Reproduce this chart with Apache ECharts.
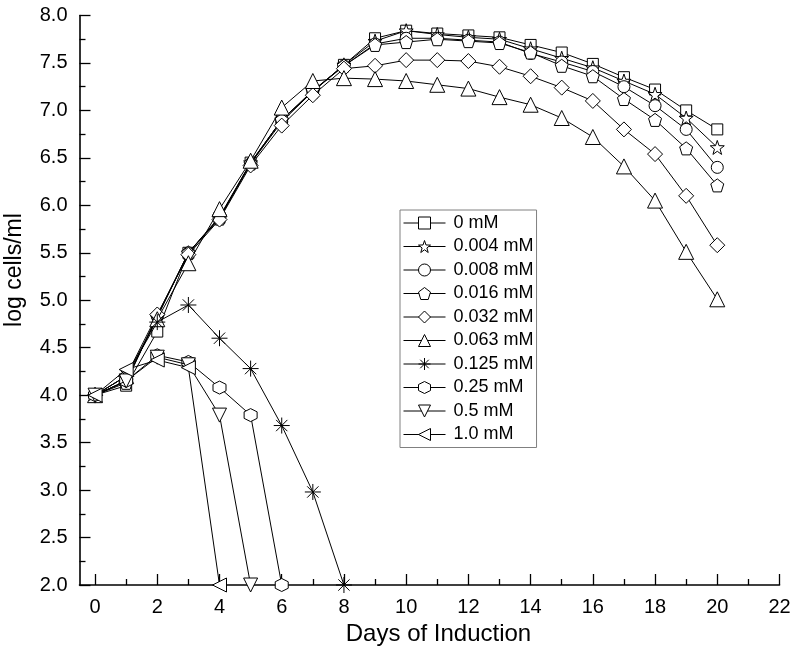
<!DOCTYPE html>
<html>
<head>
<meta charset="utf-8">
<script src="https://cdn.jsdelivr.net/npm/echarts@6/dist/echarts.min.js"></script>
<style>
html,body{margin:0;padding:0;background:#fff;}
#chart{width:797px;height:651px;}
</style>
</head>
<body>
<div id="chart"></div>
<script>
const days = [0,1,2,3,4,5,6,7,8,9,10,11,12,13,14,15,16,17,18,19,20];
const seriesNames = ['0 mM','0.004 mM','0.008 mM','0.016 mM','0.032 mM','0.063 mM','0.125 mM','0.25 mM','0.5 mM','1.0 mM'];
const s0    = [4.0, 4.10, 4.67, 5.50, 5.87, 6.45, 6.90, 7.20, 7.48, 7.76, 7.84, 7.81, 7.79, 7.77, 7.69, 7.61, 7.49, 7.35, 7.22, 7.00, 6.80];
const s004  = [4.0, 4.15, 4.82, 5.50, 5.88, 6.45, 6.90, 7.20, 7.48, 7.73, 7.84, 7.80, 7.77, 7.75, 7.65, 7.55, 7.45, 7.31, 7.17, 6.92, 6.61];
const s008  = [4.0, 4.15, 4.83, 5.50, 5.87, 6.44, 6.88, 7.20, 7.47, 7.70, 7.76, 7.76, 7.74, 7.72, 7.60, 7.51, 7.41, 7.25, 7.05, 6.80, 6.40];
const s016  = [4.0, 4.13, 4.84, 5.50, 5.86, 6.44, 6.90, 7.21, 7.47, 7.69, 7.72, 7.75, 7.73, 7.71, 7.61, 7.47, 7.36, 7.12, 6.90, 6.60, 6.21];
const s032  = [4.0, 4.20, 4.85, 5.48, 5.85, 6.42, 6.84, 7.16, 7.44, 7.47, 7.53, 7.53, 7.52, 7.46, 7.36, 7.24, 7.10, 6.80, 6.54, 6.10, 5.58];
const s063  = [4.0, 4.20, 4.80, 5.39, 5.96, 6.47, 7.03, 7.31, 7.34, 7.33, 7.31, 7.27, 7.23, 7.14, 7.06, 6.92, 6.72, 6.41, 6.05, 5.51, 5.01];
const s125  = [4.0, 4.20, 4.77, 4.95, 4.60, 4.28, 3.68, 2.98, 2.00];
const s25   = [4.0, 4.15, 4.42, 4.35, 4.08, 3.79, 2.00];
const s5    = [4.0, 4.15, 4.40, 4.32, 3.79, 2.00];
const s10   = [4.0, 4.27, 4.37, 4.29, 2.00];
const xLabelValues = [0,2,4,6,8,10,12,14,16,18,20,22];
const xMinorValues = [1,3,5,7,9,11,13,15,17,19,21];

const allValues = [s0, s004, s008, s016, s032, s063, s125, s25, s5, s10];
const symbols = [
  'rect',
  'path://M0,-10L2.35,-3.24L9.51,-3.09L3.8,1.24L5.88,8.09L0,4L-5.88,8.09L-3.8,1.24L-9.51,-3.09L-2.35,-3.24Z',
  'circle',
  'path://M0,-10L9.51,-3.09L5.88,8.09L-5.88,8.09L-9.51,-3.09Z',
  'diamond',
  'triangle',
  'path://M0,-10L0,10M-10,0L10,0M-7.07,-7.07L7.07,7.07M-7.07,7.07L7.07,-7.07',
  'path://M0,-10L8.66,-5L8.66,5L0,10L-8.66,5L-8.66,-5Z',
  'path://M-10,-8.66L10,-8.66L0,8.66Z',
  'path://M-8.66,0L8.66,-10L8.66,10Z'
];
const sizes = [11, 14, 12, 13, 15, 15, 16, 13, 14, 14];

const FONT = 'Liberation Sans, Arial, Helvetica, sans-serif';

const series = allValues.map((vals, i) => ({
  name: seriesNames[i],
  type: 'line',
  data: vals.map((v, k) => [days[k], v]),
  symbol: symbols[i],
  symbolSize: sizes[i],
  showAllSymbol: true,
  lineStyle: { color: '#000', width: 1 },
  itemStyle: { color: '#fff', borderColor: '#000', borderWidth: 1 },
  emphasis: { disabled: true },
  z: 2 + i
}));

const chart = echarts.init(document.getElementById('chart'), null, { renderer: 'canvas' });
chart.setOption({
  animation: false,
  backgroundColor: '#fff',
  textStyle: { fontFamily: FONT },
  grid: { left: 79.5, right: 17.5, top: 15.5, bottom: 66, containLabel: false, outerBoundsMode: 'none' },
  legend: {
    orient: 'vertical',
    left: 400,
    top: 210,
    padding: [4, 3, 4, 3],
    itemWidth: 42,
    itemHeight: 15,
    itemGap: 5.5,
    borderColor: '#808080',
    borderWidth: 1,
    backgroundColor: '#fff',
    itemStyle: { color: '#fff', borderColor: '#000', borderWidth: 1 },
    lineStyle: { color: '#000', width: 1 },
    textStyle: { fontFamily: FONT, fontSize: 18, color: '#000', padding: [0, 0, 0, 3] },
    data: seriesNames
  },
  xAxis: [{
    type: 'value',
    min: -0.5,
    max: 22,
    name: 'Days of Induction',
    nameLocation: 'middle',
    nameGap: 33,
    nameTextStyle: { fontFamily: FONT, fontSize: 24, color: '#000', padding: [0, 0, 0, 18] },
    axisLine: { show: true, onZero: false, lineStyle: { color: '#000', width: 1.6 } },
    axisTick: { show: true, inside: true, length: 11, customValues: xLabelValues, lineStyle: { color: '#000', width: 1.3 } },
    axisLabel: { show: true, customValues: xLabelValues, margin: 12, fontFamily: FONT, fontSize: 20, color: '#000' },
    splitLine: { show: false }
  }, {
    type: 'value',
    min: -0.5,
    max: 22,
    position: 'bottom',
    axisLine: { show: false, onZero: false },
    axisTick: { show: true, inside: true, length: 6, customValues: xMinorValues, lineStyle: { color: '#000', width: 1.3 } },
    axisLabel: { show: false },
    splitLine: { show: false }
  }],
  yAxis: {
    type: 'value',
    min: 2,
    max: 8,
    interval: 0.5,
    axisLine: { show: true, onZero: false, lineStyle: { color: '#000', width: 1.6 } },
    axisTick: { show: true, inside: true, length: 11, lineStyle: { color: '#000', width: 1.3 } },
    minorTick: { show: true, splitNumber: 2, length: 6, lineStyle: { color: '#000', width: 1.3 } },
    axisLabel: { margin: 12, fontFamily: FONT, fontSize: 20, color: '#000', formatter: v => v.toFixed(1) },
    splitLine: { show: false }
  },
  graphic: [{
    type: 'text',
    x: 15,
    y: 270,
    rotation: Math.PI / 2,
    style: { text: 'log cells/ml', font: '23px ' + FONT, fill: '#000', textAlign: 'center', textVerticalAlign: 'middle' }
  }],
  series: series
});
</script>
</body>
</html>
